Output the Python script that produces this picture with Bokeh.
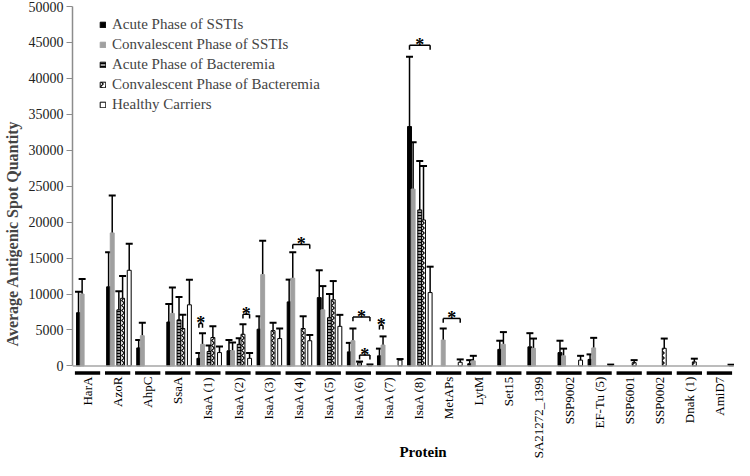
import math
from bokeh.plotting import figure
from bokeh.models import (Range1d, FixedTicker, Whisker, TeeHead, ColumnDataSource,
                          Legend, LegendItem)
from bokeh.core.properties import value
from bokeh.embed import file_html
from bokeh.resources import INLINE

proteins = ["HarA", "AzoR", "AhpC", "SsaA", "IsaA (1)", "IsaA (2)", "IsaA (3)", "IsaA (4)",
            "IsaA (5)", "IsaA (6)", "IsaA (7)", "IsaA (8)", "MetAPs", "LytM", "Set15",
            "SA21272_1399", "SSP9002", "EF-Tu (5)", "SSP6001", "SSP0002", "Dnak (1)", "AmiD7"]

series_names = ["Acute Phase of SSTIs", "Convalescent Phase of SSTIs",
                "Acute Phase of Bacteremia", "Convalescent Phase of Bacteremia",
                "Healthy Carriers"]

acute_sstis = [7400, 11000, 2500, 6100, 1050, 2100, 5100, 8900, 9500, 1950, 1400, 33300,
               0, 300, 2300, 2650, 1850, 900, 0, 0, 0, 0]
acute_sstis_err = [2900, 4800, 1100, 2500, 750, 1500, 1800, 3100, 3800, 1250, 1000, 9700,
                   0, 500, 1200, 1900, 1650, 700, 0, 0, 0, 0]
conv_sstis = [10000, 18500, 4200, 7300, 3000, 2100, 12700, 12200, 7800, 3500, 2900, 24600,
              3600, 700, 3000, 2450, 1400, 2500, 0, 0, 0, 0]
conv_sstis_err = [2100, 5200, 1800, 3600, 1550, 1150, 4700, 3600, 3300, 1700, 1200, 6500,
                  1600, 700, 1700, 1350, 1000, 1400, 0, 0, 0, 0]
acute_bact = [0, 7800, 0, 6400, 2000, 3000, 0, 0, 6700, 450, 0, 21700,
              0, 0, 0, 0, 0, 0, 0, 0, 0, 0]
acute_bact_err = [0, 2600, 0, 3200, 850, 850, 0, 0, 3300, 150, 0, 6800,
                  0, 0, 0, 0, 0, 0, 0, 0, 0, 0]
conv_bact = [0, 9400, 0, 5200, 3950, 4400, 4900, 5200, 9200, 0, 0, 20300,
             0, 0, 0, 0, 0, 0, 450, 2450, 550, 0]
conv_bact_err = [0, 3100, 0, 1900, 1550, 1400, 1100, 1700, 2600, 0, 0, 7500,
                 0, 0, 0, 0, 0, 0, 350, 1350, 450, 0]
healthy = [0, 13300, 0, 8500, 1850, 1050, 3800, 3500, 5500, 150, 800, 10200,
           500, 0, 0, 0, 800, 100, 0, 0, 0, 100]
healthy_err = [0, 3700, 0, 3500, 850, 750, 1400, 800, 1600, 50, 150, 3600,
               400, 0, 0, 0, 600, 80, 0, 0, 0, 60]

y_ticks = [0, 5000, 10000, 15000, 20000, 25000, 30000, 35000, 40000, 45000, 50000]

# significance brackets: protein index, from series, to series, level
br_protein = [4, 5, 7, 9, 9, 10, 11, 12]
br_from = [0, 3, 1, 1, 2, 0, 0, 1]
br_to = [1, 4, 4, 4, 4, 1, 4, 4]
br_level = [5900, 7200, 16900, 6800, 1500, 5650, 44600, 6600]

values = [acute_sstis, conv_sstis, acute_bact, conv_bact, healthy]
errors = [acute_sstis_err, conv_sstis_err, acute_bact_err, conv_bact_err, healthy_err]

offsets = [-0.30, -0.18, 0.04, 0.165, 0.385]
bar_w = 0.13
SERIF = "Liberation Serif"

styles = [
    dict(fill_color="black", line_color="black"),
    dict(fill_color="#a0a0a0", line_color="#a0a0a0"),
    dict(fill_color="#9a9a9a", line_color="black", hatch_pattern="horizontal_line",
         hatch_color="black", hatch_scale=3, hatch_weight=1),
    dict(fill_color="white", line_color="black", hatch_pattern="vertical_wave",
         hatch_color="black", hatch_scale=5, hatch_weight=1.1),
    dict(fill_color="white", line_color="black"),
]

p = figure(width=734, height=460, output_backend="svg", toolbar_location=None,
           x_range=Range1d(-0.5, len(proteins) - 0.5), y_range=Range1d(-13165, 50000),
           min_border_left=64, min_border_right=0, min_border_top=6, min_border_bottom=0)
p.outline_line_color = None
p.xgrid.visible = False
p.ygrid.visible = False
p.xaxis.visible = False

renderers = []
for s in range(5):
    xs, tops, lows, ups = [], [], [], []
    for i, v in enumerate(values[s]):
        if v > 0:
            xs.append(i + offsets[s])
            tops.append(v)
            lows.append(v)
            ups.append(v + errors[s][i])
    src = ColumnDataSource(dict(x=xs, top=tops, lower=lows, upper=ups))
    r = p.vbar(x="x", top="top", bottom=0, width=bar_w, source=src, line_width=1, **styles[s])
    renderers.append(r)
    w = Whisker(source=src, base="x", lower="lower", upper="upper", dimension="height",
                line_color="black", line_width=1.5, lower_head=None,
                upper_head=TeeHead(size=7, line_width=2, line_color="black"))
    p.add_layout(w)

# baseline at zero
p.segment(x0=[-0.5], x1=[len(proteins) - 0.5], y0=[0], y1=[0], line_color="#a6a6a6", line_width=1.5)

# category underline segments and category labels
idx = list(range(len(proteins)))
p.segment(x0=[i - 0.42 for i in idx], x1=[i + 0.42 for i in idx],
          y0=[-1000] * len(idx), y1=[-1000] * len(idx), line_color="black", line_width=3.5)
p.text(x=idx, y=[-1500] * len(idx), text=proteins, angle=math.pi / 2,
       text_align="right", text_baseline="middle", text_font=value(SERIF),
       text_font_size=value("13px"), text_color="black")
p.text(x=[11.15], y=[-12000], text=["Protein"], text_align="center", text_baseline="middle",
       text_font=value(SERIF), text_font_size=value("15px"), text_font_style="bold",
       text_color="black")

# significance brackets
drop = 600
bx0, bx1, by0, by1 = [], [], [], []
ax, ay = [], []
for k in range(len(br_protein)):
    xa = br_protein[k] + offsets[br_from[k]]
    xb = br_protein[k] + offsets[br_to[k]]
    lv = br_level[k]
    bx0 += [xa, xa, xb]
    bx1 += [xb, xa, xb]
    by0 += [lv, lv, lv]
    by1 += [lv, lv - drop, lv - drop]
    ax.append((xa + xb) / 2)
    ay.append(lv)
p.segment(x0=bx0, x1=bx1, y0=by0, y1=by1, line_color="black", line_width=1.5)
p.text(x=ax, y=ay, text=["*"] * len(ax), text_font=value(SERIF), text_font_size=value("18px"),
       text_font_style="bold", text_align="center", text_baseline="alphabetic", text_color="black")

# y axis
ya = p.yaxis[0]
ya.ticker = FixedTicker(ticks=y_ticks)
ya.bounds = (0, 50000)
ya.axis_line_color = "#8c8c8c"
ya.axis_line_width = 1.5
ya.major_tick_line_color = "#8c8c8c"
ya.major_tick_out = 6
ya.major_tick_in = 0
ya.minor_tick_line_color = None
ya.major_label_standoff = 3
ya.major_label_text_font = SERIF
ya.major_label_text_font_size = "14px"
ya.major_label_text_color = "#222222"
ya.axis_label = "Average Antigenic Spot Quantity"
ya.axis_label_text_font = SERIF
ya.axis_label_text_font_style = "bold"
ya.axis_label_text_font_size = "16px"
ya.axis_label_standoff = 5

legend = Legend(items=[LegendItem(label=series_names[s], renderers=[renderers[s]]) for s in range(5)],
                location=(27, 347), glyph_width=7, glyph_height=7, label_standoff=6,
                label_text_font=SERIF, label_text_font_size="15px", label_height=17,
                spacing=3, padding=0, margin=0, border_line_alpha=0, background_fill_alpha=0)
p.add_layout(legend)

open("out.html", "w").write(file_html(p, INLINE))
